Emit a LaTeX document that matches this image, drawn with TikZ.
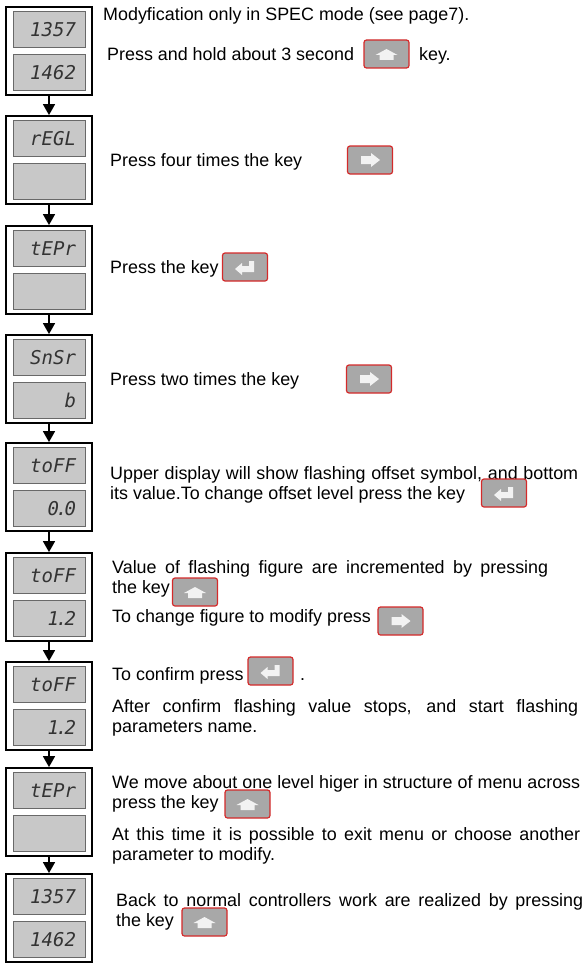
\documentclass[tikz,border=0pt]{standalone}
\usepackage{fontspec}
\setmainfont{Liberation Sans}
\newfontfamily\lcdfont{DejaVu Sans Mono}
\usepackage{tikz}
\usetikzlibrary{positioning,arrows.meta}
\usepackage{xcolor}

\definecolor{keyfill}{RGB}{168,168,168}
\definecolor{keyedge}{RGB}{212,42,42}
\definecolor{iconfill}{RGB}{242,242,242}
\definecolor{lcdfill}{RGB}{200,200,200}
\definecolor{lcdedge}{RGB}{105,105,105}
\newcommand\txtsize{\fontsize{17.9}{20}\selectfont}

\begin{document}
\begin{tikzpicture}[x=1pt,y=-1pt,
    panel/.style={rectangle,draw,line width=1.8pt,minimum width=86pt,minimum height=88pt,inner sep=0pt},
    lcd/.style={rectangle,draw=lcdedge,fill=lcdfill,line width=0.8pt,minimum width=72pt,minimum height=36pt,
        text width=54pt,inner xsep=9pt,inner ysep=0pt,align=right,text=black!80,
        font=\lcdfont\itshape\fontsize{19}{19}\selectfont},
    keybtn/.style={rectangle,draw=keyedge,fill=keyfill,line width=1.2pt,rounded corners=2.5pt,
        minimum width=45pt,minimum height=28pt,inner sep=0pt},
    txt/.style={anchor=base west,inner sep=0pt,font=\txtsize},
    para/.style={txt,text width=468pt,align=justify},
    flow/.style={-{Triangle[width=12pt,length=11pt]},line width=1.5pt},
    upicon/.pic={\fill[iconfill] (-11,1) -- (0,-5) -- (11,1) -- (7,1) -- (7,6) -- (-7,6) -- (-7,1) -- cycle;},
    rticon/.pic={\fill[iconfill] (-9,-4) -- (1,-4) -- (1,-7) -- (10,0) -- (1,7) -- (1,4) -- (-9,4) -- cycle;},
    enticon/.pic={\fill[iconfill] (-10,2) -- (-3,-4) -- (-3,-1) -- (4,-1) -- (4,-6) -- (9,-6) -- (9,5) -- (-3,5) -- (-3,8) -- cycle;}]

\useasboundingbox (0,0) rectangle (587,966);

% Afficheurs
\node[panel] (b1) at (49,51) {};
\node[lcd,below=5pt of b1.north] (u1) {1357};
\node[lcd,above=5pt of b1.south] (l1) {1462};

\node[panel] (b2) at (49,160) {};
\node[lcd,below=5pt of b2.north] (u2) {rEGL};
\node[lcd,above=5pt of b2.south] (l2) {};

\node[panel] (b3) at (49,270) {};
\node[lcd,below=5pt of b3.north] (u3) {tEPr};
\node[lcd,above=5pt of b3.south] (l3) {};

\node[panel] (b4) at (49,379) {};
\node[lcd,below=5pt of b4.north] (u4) {SnSr};
\node[lcd,above=5pt of b4.south] (l4) {b};

\node[panel] (b5) at (49,487) {};
\node[lcd,below=5pt of b5.north] (u5) {toFF};
\node[lcd,above=5pt of b5.south] (l5) {0\kern-3pt.\kern-3pt0};

\node[panel] (b6) at (49,597) {};
\node[lcd,below=5pt of b6.north] (u6) {toFF};
\node[lcd,above=5pt of b6.south] (l6) {1\kern-3pt.\kern-3pt2};

\node[panel] (b7) at (49,706) {};
\node[lcd,below=5pt of b7.north] (u7) {toFF};
\node[lcd,above=5pt of b7.south] (l7) {1\kern-3pt.\kern-3pt2};

\node[panel] (b8) at (49,812) {};
\node[lcd,below=5pt of b8.north] (u8) {tEPr};
\node[lcd,above=5pt of b8.south] (l8) {};

\node[panel] (b9) at (49,918) {};
\node[lcd,below=5pt of b9.north] (u9) {1357};
\node[lcd,above=5pt of b9.south] (l9) {1462};

% Fleches
\draw[flow] (b1.south) -- (b2.north);
\draw[flow] (b2.south) -- (b3.north);
\draw[flow] (b3.south) -- (b4.north);
\draw[flow] (b4.south) -- (b5.north);
\draw[flow] (b5.south) -- (b6.north);
\draw[flow] (b6.south) -- (b7.north);
\draw[flow] (b7.south) -- (b8.north);
\draw[flow] (b8.south) -- (b9.north);

% Textes et touches
\node[txt] (t1) at (103,21) {Modyfication only in SPEC mode (see page7).};
\node[txt] (t2) at (107,60) {Press and hold about 3 second};
\node[keybtn] (k1) at (386.5,54) {};
\pic at (k1.center) {upicon};
\node[txt] (t2b) at (419,60) {key.};

\node[txt] (t3) at (110,166) {Press four times the key};
\node[keybtn] (k2) at (370,160) {};
\pic at (k2.center) {rticon};

\node[txt] (t4) at (110,273) {Press the key};
\node[keybtn] (k3) at (245,267) {};
\pic at (k3.center) {enticon};

\node[txt] (t5) at (110,385) {Press two times the key};
\node[keybtn] (k4) at (369,379) {};
\pic at (k4.center) {rticon};

\node[para] (t6) at (110,479) {Upper display will show flashing offset symbol, and bottom\linebreak its value.To change offset level press the key};
\node[keybtn] (k5) at (504,493) {};
\pic at (k5.center) {enticon};

\node[para,text width=436pt] (t7) at (112,573) {Value of flashing figure are incremented by pressing\linebreak the key};
\node[keybtn] (k6) at (195,592) {};
\pic at (k6.center) {upicon};
\node[txt] (t8) at (112,622) {To change figure to modify press};
\node[keybtn] (k7) at (400.5,621) {};
\pic at (k7.center) {rticon};

\node[txt] (t9) at (112,680) {To confirm press};
\node[keybtn] (k8) at (270.5,671) {};
\pic at (k8.center) {enticon};
\node[txt] (t9b) at (300,680) {.};
\node[para,text width=466pt] (t10) at (112,712) {After confirm flashing value stops, and start flashing\linebreak parameters name.};

\node[para] (t11) at (112,788) {We move about one level higer in structure of menu across\linebreak press the key};
\node[keybtn] (k9) at (247.5,804) {};
\pic at (k9.center) {upicon};
\node[para] (t12) at (112,840) {At this time it is possible to exit menu or choose another\linebreak parameter to modify.};

\node[para,text width=467pt] (t13) at (116,906) {Back to normal controllers work are realized by pressing\linebreak the key};
\node[keybtn] (k10) at (204.5,922) {};
\pic at (k10.center) {upicon};

\end{tikzpicture}
\end{document}
